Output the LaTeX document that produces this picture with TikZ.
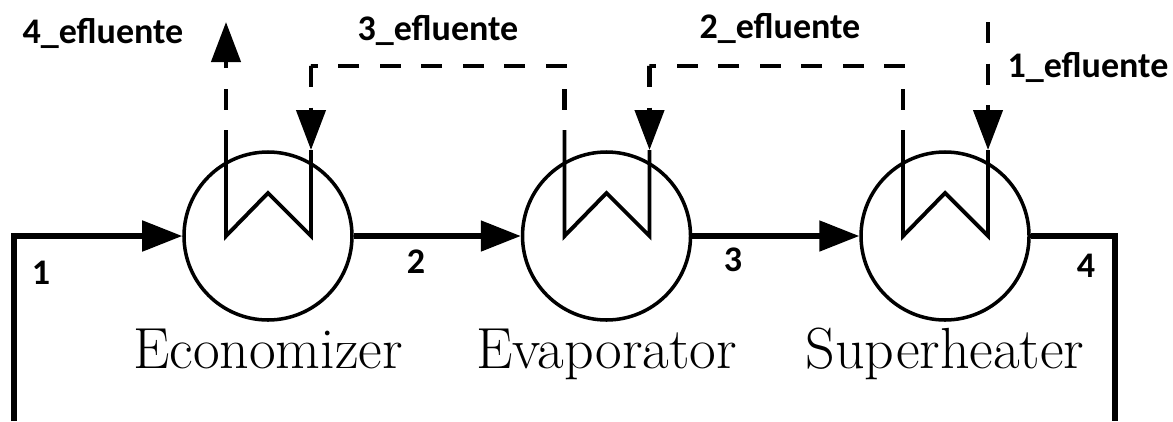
\documentclass[tikz,border=0pt]{standalone}
\usepackage{fontspec}
\newfontfamily\lblfont{Carlito}
\usepackage{tikz}
\usetikzlibrary{arrows.meta,positioning,calc}

\begin{document}
\begin{tikzpicture}[
  unit/.style={circle, draw, line width=2pt, minimum size=3.36cm, inner sep=0pt},
  tag/.style={font=\fontsize{33}{36}\selectfont, inner sep=0pt, text height=0.7cm, text depth=0.25cm},
  lbl/.style={font=\lblfont\bfseries\fontsize{20.5}{24}\selectfont, inner sep=0pt},
  flow/.style={line width=2.9pt, line join=miter},
  flowarr/.style={flow, -{Triangle[length=0.8cm,width=0.6cm]}},
  coil/.style={line width=2.2pt, line join=miter},
  gas/.style={line width=2.5pt, dash pattern=on 0.42cm off 0.41cm},
  gasup/.style={gas, dash phase=0.42cm},
  gasarr/.style={gas, -{Triangle[length=0.8cm,width=0.58cm]}}
]
\useasboundingbox (0,0) rectangle (23.46,-8.42);
\node[unit] (ec) at (5.36,-4.72) {};
\node[unit, right=3.34cm of ec] (ev) {};
\node[unit, right=3.34cm of ev] (su) {};
\node[tag, below=0.22cm of ec] (ect) {Economizer};
\node[tag, below=0.22cm of ev] (evt) {Evaporator};
\node[tag, below=0.22cm of su] (sut) {Superheater};
% feed lines
\coordinate (fin) at (0.28,-8.42);
\coordinate (fout) at (22.3,-8.42);
\draw[flowarr] (fin) |- (ec);
\draw[flowarr] (ec) -- (ev);
\draw[flowarr] (ev) -- (su);
\draw[flow] (su) -| (fout);
% coils
\coordinate (ecl) at ($(ec)+(-0.84,2.12)$);
\coordinate (ecr) at ($(ec)+(0.86,1.72)$);
\coordinate (evl) at ($(ev)+(-0.84,2.12)$);
\coordinate (evr) at ($(ev)+(0.86,1.72)$);
\coordinate (sul) at ($(su)+(-0.84,2.12)$);
\coordinate (sur) at ($(su)+(0.86,1.72)$);
\draw[coil] (ecl) -- ($(ec)+(-0.84,0)$) -- ($(ec)+(0,0.86)$) -- ($(ec)+(0.86,0)$) -- (ecr);
\draw[coil] (evl) -- ($(ev)+(-0.84,0)$) -- ($(ev)+(0,0.86)$) -- ($(ev)+(0.86,0)$) -- (evr);
\draw[coil] (sul) -- ($(su)+(-0.84,0)$) -- ($(su)+(0,0.86)$) -- ($(su)+(0.86,0)$) -- (sur);
% effluent lines
\coordinate (gout) at ($(ecl)+(0,2.16)$);
\coordinate (gin) at ($(sur)+(0,2.56)$);
\coordinate (ectop) at ($(ecr)+(0,1.68)$);
\coordinate (evtop) at ($(evr)+(0,1.68)$);
\draw[gasarr, dash phase=0.42cm] (ecl) -- (gout);
\draw[gasup] (evl) -- ++(0,1.28) -| (ectop);
\draw[gasarr] (ectop) -- (ecr);
\draw[gasup] (sul) -- ++(0,1.28) -| (evtop);
\draw[gasarr] (evtop) -- (evr);
\draw[gasarr] (gin) -- (sur);
% labels
\node[lbl] (e4) at (2.06,-0.66) {4\_efluente};
\node[lbl] (e3) at (8.76,-0.6) {3\_efluente};
\node[lbl] (e2) at (15.6,-0.56) {2\_efluente};
\node[lbl] (e1) at (21.76,-1.34) {1\_efluente};
\node[lbl] (s1) at (0.82,-5.46) {1};
\node[lbl] (s2) at (8.32,-5.24) {2};
\node[lbl] (s3) at (14.66,-5.2) {3};
\node[lbl] (s4) at (21.72,-5.32) {4};
\end{tikzpicture}
\end{document}
